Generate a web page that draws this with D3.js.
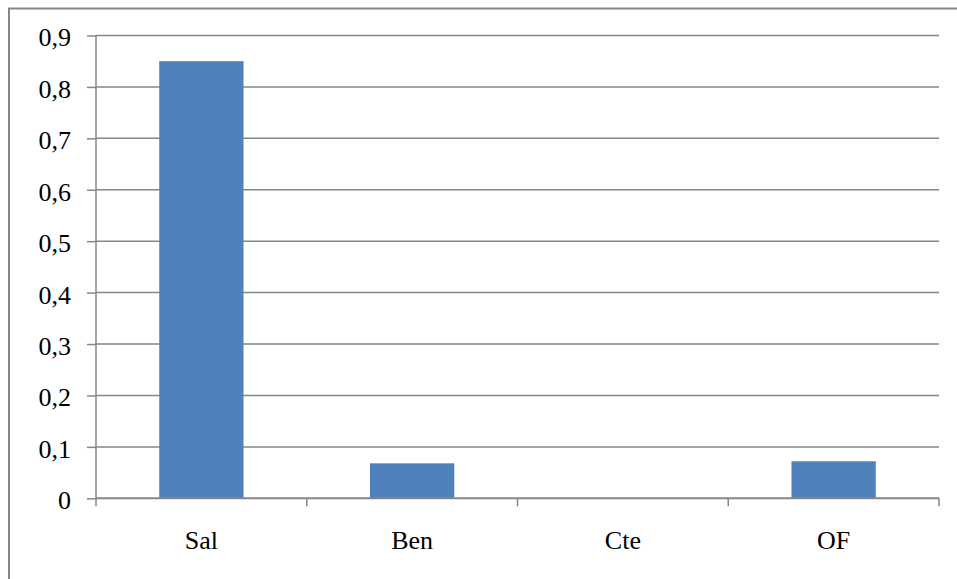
<!DOCTYPE html>
<html><head><meta charset="utf-8">
<script src="https://cdn.jsdelivr.net/npm/d3@7"></script>
<style>html,body{margin:0;padding:0;background:#fff;overflow:hidden}
svg text{font-family:"Liberation Serif", serif !important;font-size:26px !important}</style>
</head><body>
<script>
const categories = ["Sal", "Ben", "Cte", "OF"];
const values = [0.85, 0.068, 0, 0.072];
const yTicks = [0, 0.1, 0.2, 0.3, 0.4, 0.5, 0.6, 0.7, 0.8, 0.9];

(function () {
const W = 957, H = 579;
const FONT = '"Liberation Serif", serif';
const svg = d3.select("body").append("svg").attr("width", W).attr("height", H)
  .style("font-family", FONT);

// outer chart frame (cropped at right and bottom)
svg.append("rect").attr("x", 9).attr("y", 8.5).attr("width", W + 20).attr("height", H + 20)
  .attr("fill", "#fff").attr("stroke", "#868686").attr("stroke-width", 2);

const pL = 96, pR = 939, pT = 35.5, pB = 498.3;
const x = d3.scaleBand().domain(categories).range([pL, pR]).padding(0);
const y = d3.scaleLinear().domain([0, 0.9]).range([pB, pT]);
const fmt = d => d === 0 ? "0" : d3.format(".1f")(d).replace(".", ",");

// gridlines
svg.append("g").selectAll("line").data(yTicks.filter(d => d > 0)).join("line")
  .attr("x1", pL).attr("x2", pR)
  .attr("y1", d => y(d)).attr("y2", d => y(d))
  .attr("stroke", "#868686").attr("stroke-width", 1.5);

// bars
const bw = x.bandwidth() * 0.4;
svg.append("g").selectAll("rect").data(categories).join("rect")
  .attr("x", (d) => x(d) + (x.bandwidth() - bw) / 2)
  .attr("width", bw)
  .attr("y", (d, i) => y(values[i]))
  .attr("height", (d, i) => pB - y(values[i]))
  .attr("fill", "#4F81BD");

// y axis
const yAxis = d3.axisLeft(y).tickValues(yTicks).tickFormat(fmt).tickSize(9).tickPadding(16);
const gy = svg.append("g").attr("transform", `translate(${pL},0)`).call(yAxis)
  .attr("font-family", FONT).attr("font-size", 26);
gy.select(".domain").attr("stroke", "#868686").attr("stroke-width", 1.5).attr("fill", "none").attr("d", `M0,${pT}V${pB}`);
gy.selectAll(".tick line").attr("stroke", "#868686").attr("stroke-width", 1.5);
gy.selectAll("text").attr("font-family", FONT).attr("font-size", 26).attr("fill", "#000").attr("dy", "0.4em");

// x axis
const xAxis = d3.axisBottom(x).tickSize(0).tickPadding(32);
const gx = svg.append("g").attr("transform", `translate(0,${pB})`).call(xAxis)
  .attr("font-family", FONT).attr("font-size", 26);
gx.select(".domain").attr("stroke", "#868686").attr("stroke-width", 2).attr("d", `M${pL},0H${pR}`);
gx.selectAll("text").attr("font-family", FONT).attr("font-size", 26).attr("fill", "#000");
// category boundary ticks
const bounds = categories.map(c => x(c)).concat([pR]);
gx.append("g").selectAll("line").data(bounds).join("line")
  .attr("x1", d => d).attr("x2", d => d).attr("y1", 0).attr("y2", 8)
  .attr("stroke", "#868686").attr("stroke-width", 1.5);
})();
</script>
</body></html>
